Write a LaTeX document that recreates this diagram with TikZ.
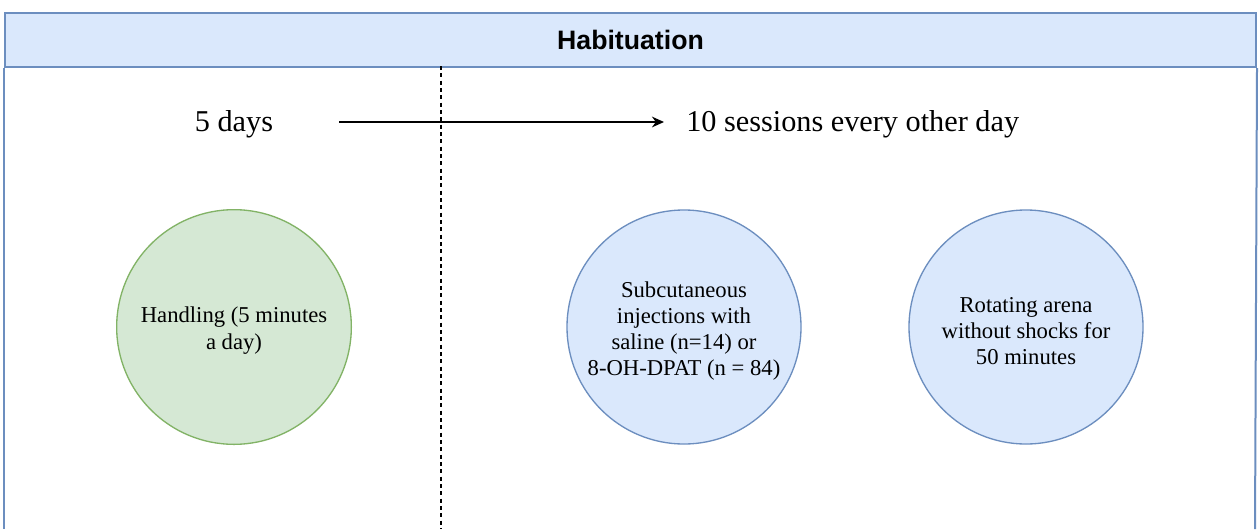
\documentclass[tikz,border=0pt]{standalone}
\usepackage{fontspec}
\setmainfont{Liberation Serif}
\newfontfamily\hdrfont{Liberation Sans}
\usetikzlibrary{arrows.meta}
\definecolor{hdrfill}{HTML}{DAE8FC}
\definecolor{hdrline}{HTML}{6C8EBF}
\definecolor{grfill}{HTML}{D5E8D4}
\definecolor{grline}{HTML}{82B366}
\newcommand{\firststrut}{\rule{0pt}{17.5pt}}
\tikzset{
  frameline/.style={draw=hdrline, line width=1.5pt},
  bluecirc/.style={circle, draw=hdrline, fill=hdrfill, line width=1pt, minimum size=175.5pt, inner sep=0pt, align=center, font=\fontsize{17pt}{19.5pt}\selectfont},
  greencirc/.style={circle, draw=grline, fill=grfill, line width=1pt, minimum size=176pt, inner sep=0pt, align=center, font=\fontsize{17pt}{20pt}\selectfont},
  steptext/.style={font=\fontsize{22.7pt}{25pt}\selectfont, inner sep=0pt},
  dashline/.style={draw=black, line width=0.8pt, dash pattern=on 3pt off 2.5pt},
  timearrow/.style={draw=black, line width=1.4pt, -{Stealth[length=9pt,width=8pt]}}
}
\begin{document}
\begin{tikzpicture}[x=0.75pt, y=-0.75pt]
\useasboundingbox (0,0) rectangle (1259,529);
\fill[white] (0,0) rectangle (1259,529);
% header band
\node[frameline, fill=hdrfill, minimum width=938.25pt, minimum height=40.5pt, inner sep=0pt, anchor=north west,
      font=\hdrfont\bfseries\fontsize{20pt}{22pt}\selectfont] (header) at (4,12) {Habituation};
% open frame sides
\coordinate (lb) at (4,529);
\coordinate (rb) at (1255,529);
\draw[frameline] (header.south west) -- (lb);
\draw[frameline] (header.south east) -- (rb);
% dashed divider
\coordinate (dtop) at (441,66);
\coordinate (dbot) at (441,529);
\draw[dashline] (dtop) -- (dbot);
% timeline texts
\node[steptext] (days5) at (234,124) {5 days};
\node[steptext, anchor=west] (sessions) at (686,124) {10 sessions every other day};
\draw[timearrow] ([xshift=49.5pt,yshift=1.5pt]days5.east) -- ([xshift=-16.5pt,yshift=1.5pt]sessions.west);
% circles
\node[greencirc] (handling) at (234,327) {\firststrut Handling (5 minutes\\a day)};
\node[bluecirc] (injections) at (684,327) {\firststrut Subcutaneous\\injections with\\saline (n=14) or\\8-OH-DPAT (n = 84)};
\node[bluecirc] (arena) at (1026,327) {\firststrut Rotating arena\\without shocks for\\50 minutes};
\end{tikzpicture}
\end{document}
